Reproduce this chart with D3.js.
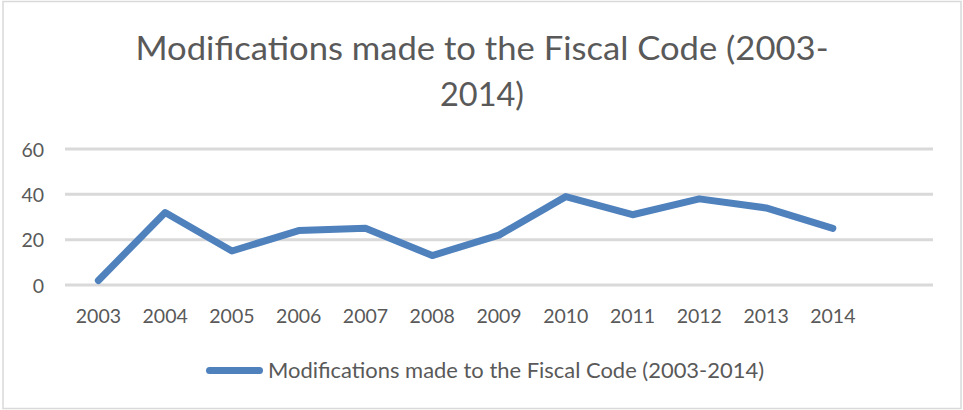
<!DOCTYPE html>
<html>
<head>
<meta charset="utf-8">
<script src="https://cdn.jsdelivr.net/npm/d3@7"></script>
<style>
  html, body { margin: 0; padding: 0; background: #fff; }
  svg { display: block; font-family: Lato, "Open Sans", sans-serif; }
</style>
</head>
<body>
<svg id="chart" width="963" height="410"></svg>
<script>
// Chart data
const years = ["2003", "2004", "2005", "2006", "2007", "2008", "2009", "2010", "2011", "2012", "2013", "2014"];
const modifications = [2, 32, 15, 24, 25, 13, 22, 39, 31, 38, 34, 25];
const yTicks = [0, 20, 40, 60];
const titleLines = ["Modifications made to the Fiscal Code (2003-", "2014)"];
const seriesName = "Modifications made to the Fiscal Code (2003-2014)";

const svg = d3.select("#chart");
const W = 963, H = 410;
const textColor = "#595959";
const lineColor = "#4f81bd";
const gridColor = "#d9d9d9";

// Outer chart frame
svg.append("rect")
  .attr("x", 3).attr("y", 1.5)
  .attr("width", 958).attr("height", 407)
  .attr("fill", "#fff")
  .attr("stroke", gridColor)
  .attr("stroke-width", 1.5);

// Plot area: one spare category slot is left empty on the right
const plotLeft = 65, plotRight = 933, plotTop = 149, plotBottom = 285;
const slots = years.length + 1;
const x = d3.scaleBand()
  .domain(years)
  .range([plotLeft, plotLeft + (plotRight - plotLeft) * years.length / slots])
  .paddingInner(0).paddingOuter(0);
const y = d3.scaleLinear().domain([0, 60]).range([plotBottom, plotTop]);

// Fit a text element to a target width
function fitWidth(sel, width) {
  sel.attr("textLength", width).attr("lengthAdjust", "spacingAndGlyphs");
}

// Title
const title = svg.append("g").attr("fill", textColor)
  .attr("font-size", 33).attr("text-anchor", "middle");
title.append("text").attr("x", 482).attr("y", 60).text(titleLines[0]).call(fitWidth, 693);
title.append("text").attr("x", 482).attr("y", 106).text(titleLines[1]).call(fitWidth, 84);

// Gridlines
svg.append("g")
  .selectAll("line")
  .data(yTicks)
  .join("line")
  .attr("x1", plotLeft).attr("x2", plotRight)
  .attr("y1", d => y(d)).attr("y2", d => y(d))
  .attr("stroke", gridColor)
  .attr("stroke-width", 3);

// Y axis labels
const yAxis = d3.axisLeft(y).tickValues(yTicks).tickSize(0).tickPadding(0);
const yg = svg.append("g").attr("transform", "translate(44,0)").call(yAxis);
yg.select(".domain").remove();
yg.selectAll("text")
  .attr("fill", textColor)
  .attr("font-size", 19.5)
  .attr("font-family", "Lato, 'Open Sans', sans-serif")
  .attr("dy", "0.36em");

// X axis labels
const xAxis = d3.axisBottom(x).tickSize(0).tickPadding(0);
const xg = svg.append("g").attr("transform", "translate(0,323)").call(xAxis);
xg.select(".domain").remove();
xg.selectAll("text")
  .attr("fill", textColor)
  .attr("font-size", 19.5)
  .attr("font-family", "Lato, 'Open Sans', sans-serif")
  .attr("dy", 0);

// Series line
const line = d3.line()
  .x((d, i) => x(years[i]) + x.bandwidth() / 2)
  .y(d => y(d));
svg.append("path")
  .datum(modifications)
  .attr("d", line)
  .attr("fill", "none")
  .attr("stroke", lineColor)
  .attr("stroke-width", 7)
  .attr("stroke-linejoin", "round")
  .attr("stroke-linecap", "round");

// Legend
const legend = svg.append("g");
legend.append("line")
  .attr("x1", 209.5).attr("x2", 259.5)
  .attr("y1", 370.5).attr("y2", 370.5)
  .attr("stroke", lineColor)
  .attr("stroke-width", 7)
  .attr("stroke-linecap", "round");
legend.append("text")
  .attr("x", 268).attr("y", 377.5)
  .attr("fill", textColor)
  .attr("font-size", 22)
  .text(seriesName)
  .call(fitWidth, 496);
</script>
</body>
</html>
